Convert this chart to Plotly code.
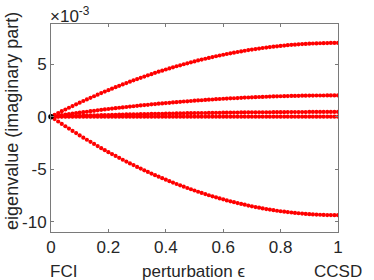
import plotly.graph_objects as go

# perturbation parameter epsilon (0 = FCI, 1 = CCSD), 81 samples
eps = [i / 80 for i in range(81)]

# imaginary parts of eigenvalues, in units of 1e-3
branch_top = [0, 0.17, 0.35, 0.52, 0.68, 0.85, 1.01, 1.17, 1.33, 1.49, 1.64, 1.79, 1.94, 2.09, 2.24, 2.38,
              2.52, 2.66, 2.80, 2.93, 3.06, 3.19, 3.32, 3.45, 3.57, 3.69, 3.81, 3.93, 4.04, 4.16, 4.27,
              4.37, 4.48, 4.58, 4.69, 4.79, 4.88, 4.98, 5.07, 5.16, 5.25, 5.34, 5.42, 5.50, 5.58, 5.66,
              5.74, 5.81, 5.88, 5.95, 6.02, 6.08, 6.14, 6.20, 6.26, 6.32, 6.37, 6.42, 6.47, 6.52, 6.56,
              6.61, 6.65, 6.68, 6.72, 6.75, 6.79, 6.82, 6.84, 6.87, 6.89, 6.91, 6.93, 6.95, 6.96, 6.97,
              6.98, 6.99, 7.00, 7.00, 7.00]
branch_mid = [0, 0.05, 0.10, 0.15, 0.20, 0.24, 0.29, 0.34, 0.38, 0.43, 0.47, 0.52, 0.56, 0.60, 0.65, 0.69,
              0.73, 0.77, 0.81, 0.85, 0.88, 0.92, 0.96, 0.99, 1.03, 1.07, 1.10, 1.13, 1.17, 1.20, 1.23,
              1.26, 1.29, 1.32, 1.35, 1.38, 1.41, 1.44, 1.46, 1.49, 1.52, 1.54, 1.56, 1.59, 1.61, 1.63,
              1.66, 1.68, 1.70, 1.72, 1.74, 1.75, 1.77, 1.79, 1.81, 1.82, 1.84, 1.85, 1.87, 1.88, 1.89,
              1.91, 1.92, 1.93, 1.94, 1.95, 1.96, 1.97, 1.97, 1.98, 1.99, 1.99, 2.00, 2.00, 2.01, 2.01,
              2.01, 2.02, 2.02, 2.02, 2.02]
branch_small = [0, 0.01, 0.02, 0.03, 0.04, 0.05, 0.06, 0.08, 0.09, 0.10, 0.11, 0.12, 0.12, 0.13, 0.14, 0.15,
                0.16, 0.17, 0.18, 0.19, 0.20, 0.21, 0.21, 0.22, 0.23, 0.24, 0.24, 0.25, 0.26, 0.27, 0.27,
                0.28, 0.29, 0.29, 0.30, 0.31, 0.31, 0.32, 0.33, 0.33, 0.34, 0.34, 0.35, 0.35, 0.36, 0.36,
                0.37, 0.37, 0.38, 0.38, 0.39, 0.39, 0.39, 0.40, 0.40, 0.41, 0.41, 0.41, 0.42, 0.42, 0.42,
                0.42, 0.43, 0.43, 0.43, 0.43, 0.44, 0.44, 0.44, 0.44, 0.44, 0.44, 0.45, 0.45, 0.45, 0.45,
                0.45, 0.45, 0.45, 0.45, 0.45]
branch_zero = [0, 0, 0, 0, 0, 0, 0, 0, 0, 0, 0, 0, 0, 0, 0, 0, 0, 0, 0, 0, 0,
               0, 0, 0, 0, 0, 0, 0, 0, 0, 0, 0, 0, 0, 0, 0, 0, 0, 0, 0, 0,
               0, 0, 0, 0, 0, 0, 0, 0, 0, 0, 0, 0, 0, 0, 0, 0, 0, 0, 0, 0,
               0, 0, 0, 0, 0, 0, 0, 0, 0, 0, 0, 0, 0, 0, 0, 0, 0, 0, 0, 0]
branch_bottom = [0, -0.23, -0.46, -0.69, -0.91, -1.13, -1.35, -1.56, -1.78, -1.99, -2.19, -2.39, -2.59,
                 -2.79, -2.99, -3.18, -3.37, -3.55, -3.73, -3.91, -4.09, -4.26, -4.44, -4.60, -4.77,
                 -4.93, -5.09, -5.25, -5.40, -5.55, -5.70, -5.84, -5.98, -6.12, -6.26, -6.39, -6.52,
                 -6.65, -6.77, -6.89, -7.01, -7.13, -7.24, -7.35, -7.46, -7.56, -7.66, -7.76, -7.85,
                 -7.95, -8.04, -8.12, -8.20, -8.28, -8.36, -8.44, -8.51, -8.58, -8.64, -8.71, -8.77,
                 -8.82, -8.88, -8.93, -8.98, -9.02, -9.06, -9.10, -9.14, -9.17, -9.20, -9.23, -9.26,
                 -9.28, -9.30, -9.31, -9.33, -9.34, -9.34, -9.35, -9.35]

x_ticks = [0, 0.2, 0.4, 0.6, 0.8, 1]
x_ticktext = ["0", "0.2", "0.4", "0.6", "0.8", "1"]
y_ticks = [-10, -5, 0, 5]
y_ticktext = ["-10", "-5", "0", "5"]

FONT = "Liberation Sans, Arial, sans-serif"
TXT = "#262626"
AX = "#7a7a7a"
FS = 17

fig = go.Figure()
for ys in [branch_zero, branch_small, branch_mid, branch_top, branch_bottom]:
    fig.add_trace(go.Scatter(x=eps, y=ys, mode="markers",
                             marker=dict(color="#ff0000", size=4.2, symbol="circle", line=dict(width=0)),
                             showlegend=False, hoverinfo="skip"))
fig.add_trace(go.Scatter(x=[0], y=[0], mode="markers",
                         marker=dict(color="black", size=5.5, line=dict(width=0)),
                         showlegend=False, hoverinfo="skip", cliponaxis=False))

fig.update_layout(
    width=374, height=280,
    margin=dict(l=51, r=36, t=24, b=48),
    paper_bgcolor="white", plot_bgcolor="white",
    font=dict(family=FONT, size=FS, color=TXT),
    xaxis=dict(range=[0, 1], tickvals=x_ticks, ticktext=x_ticktext,
               ticks="inside", ticklen=3, tickcolor=AX, showline=True, linecolor=AX, linewidth=1,
               mirror="ticks", showgrid=False, zeroline=False,
               tickfont=dict(size=FS, color=TXT)),
    yaxis=dict(range=[-10.95, 8.8], tickvals=y_ticks, ticktext=y_ticktext,
               ticks="inside", ticklen=3, tickcolor=AX, showline=True, linecolor=AX, linewidth=1,
               mirror="ticks", showgrid=False, zeroline=False,
               tickfont=dict(size=FS, color=TXT)),
    annotations=[
        dict(text="eigenvalue (imaginary part)", xref="paper", yref="paper", x=-0.136, y=0.534,
             textangle=-90, showarrow=False, font=dict(size=FS + 1, color=TXT),
             xanchor="center", yanchor="middle"),
        dict(text="×10<sup>-3</sup>", xref="paper", yref="paper", x=-0.0105, y=1.043,
             showarrow=False, xanchor="left", yanchor="middle", font=dict(size=FS, color=TXT)),
        dict(text="FCI", xref="paper", yref="paper", x=-0.0105, y=0, yshift=-28, showarrow=False,
             xanchor="left", yanchor="top", font=dict(size=FS, color=TXT)),
        dict(text="perturbation ϵ", xref="paper", yref="paper", x=0.497, y=0, yshift=-28, showarrow=False,
             xanchor="center", yanchor="top", font=dict(size=FS, color=TXT)),
        dict(text="CCSD", xref="paper", yref="paper", x=1.0, y=0, yshift=-28, showarrow=False,
             xanchor="center", yanchor="top", font=dict(size=FS, color=TXT)),
    ],
)

fig.write_html("out.html", config={"displayModeBar": False, "staticPlot": True})

# remove the browser's default page margin so the figure sits at the window origin
with open("out.html", "r", encoding="utf-8") as f:
    html = f.read()
html = html.replace("<head>", "<head><style>html,body{margin:0;padding:0;overflow:hidden;}</style>", 1)
with open("out.html", "w", encoding="utf-8") as f:
    f.write(html)
